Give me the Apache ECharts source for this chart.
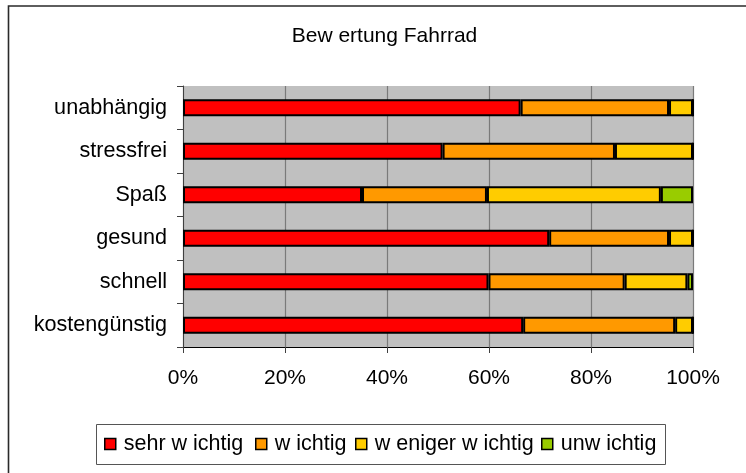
<!DOCTYPE html>
<html>
<head>
<meta charset="utf-8">
<script src="https://cdn.jsdelivr.net/npm/echarts@6/dist/echarts.min.js"></script>
<style>
html,body{margin:0;padding:0;background:#fff;}
#c{width:746px;height:473px;}
</style>
</head>
<body>
<div id="c"></div>
<script>
const categories = ['unabhängig', 'stressfrei', 'Spaß', 'gesund', 'schnell', 'kostengünstig'];
const seriesNames = ['sehr w ichtig', 'w ichtig', 'w eniger w ichtig', 'unw ichtig'];
const sehrWichtig    = [66.2, 50.9, 35.1, 71.8, 59.9, 66.7];
const wichtig        = [29.1, 33.8, 24.5, 23.5, 26.7, 29.8];
const wenigerWichtig = [4.7, 15.3, 34.1, 4.7, 12.3, 3.5];
const unwichtig      = [0, 0, 6.3, 0, 1.1, 0];
const xTicks = [0, 20, 40, 60, 80, 100];
const titleText = 'Bew ertung Fahrrad';

const colors = ['#FF0000', '#FF9900', '#FFCC00', '#99CC00'];
const values = [sehrWichtig, wichtig, wenigerWichtig, unwichtig];
const FONT = 'Liberation Sans, Arial, sans-serif';

const chart = echarts.init(document.getElementById('c'), null, {renderer: 'canvas'});

const legendLefts = [104, 255, 355, 541];

const option = {
  animation: false,
  backgroundColor: '#fff',
  graphic: [
    {type: 'rect', shape: {x: 8.5, y: 6, width: 780, height: 500}, style: {fill: 'none', stroke: '#2a2a2a', lineWidth: 1.6}, z: 0},
    {type: 'rect', shape: {x: 96.5, y: 424.5, width: 569, height: 40}, style: {fill: '#fff', stroke: '#555', lineWidth: 1}, z: 0},
    {type: 'text', x: 384.5, y: 36, style: {text: titleText, textAlign: 'center', textVerticalAlign: 'middle', font: '21px ' + FONT, fill: '#000'}, z: 10}
  ],
  grid: {
    left: 183, right: 53, top: 86, bottom: 126,
    show: true, backgroundColor: '#C0C0C0', borderWidth: 0
  },
  legend: seriesNames.map((n, i) => ({
    data: [n],
    left: legendLefts[i],
    top: 433,
    padding: 0,
    itemWidth: 11,
    itemHeight: 11,
    icon: 'rect',
    itemStyle: {borderColor: '#000', borderWidth: 1.5},
    textStyle: {fontFamily: FONT, fontSize: 21.5, color: '#000', lineHeight: 22, padding: [0, 0, 0, 3]},
    selectedMode: false
  })),
  xAxis: {
    type: 'value',
    min: xTicks[0],
    max: xTicks[xTicks.length - 1],
    interval: xTicks[1] - xTicks[0],
    axisLine: {show: true, lineStyle: {color: '#000', width: 1}},
    axisTick: {show: true, length: 6, lineStyle: {color: '#404040'}},
    axisLabel: {formatter: '{value}%', fontFamily: FONT, fontSize: 21, color: '#000', margin: 21},
    splitLine: {show: true, lineStyle: {color: '#7a7a7a', width: 1.2}}
  },
  yAxis: {
    type: 'category',
    data: categories,
    inverse: true,
    axisLine: {show: true, lineStyle: {color: '#404040', width: 1}},
    axisTick: {show: true, length: 6, lineStyle: {color: '#404040'}},
    axisLabel: {fontFamily: FONT, fontSize: 21.6, color: '#000', margin: 16}
  },
  series: seriesNames.map((n, i) => ({
    name: n,
    type: 'bar',
    stack: 'total',
    barWidth: 17,
    data: values[i],
    itemStyle: {color: colors[i], borderColor: '#000', borderWidth: 2},
    emphasis: {disabled: true}
  }))
};
chart.setOption(option);
</script>
</body>
</html>
